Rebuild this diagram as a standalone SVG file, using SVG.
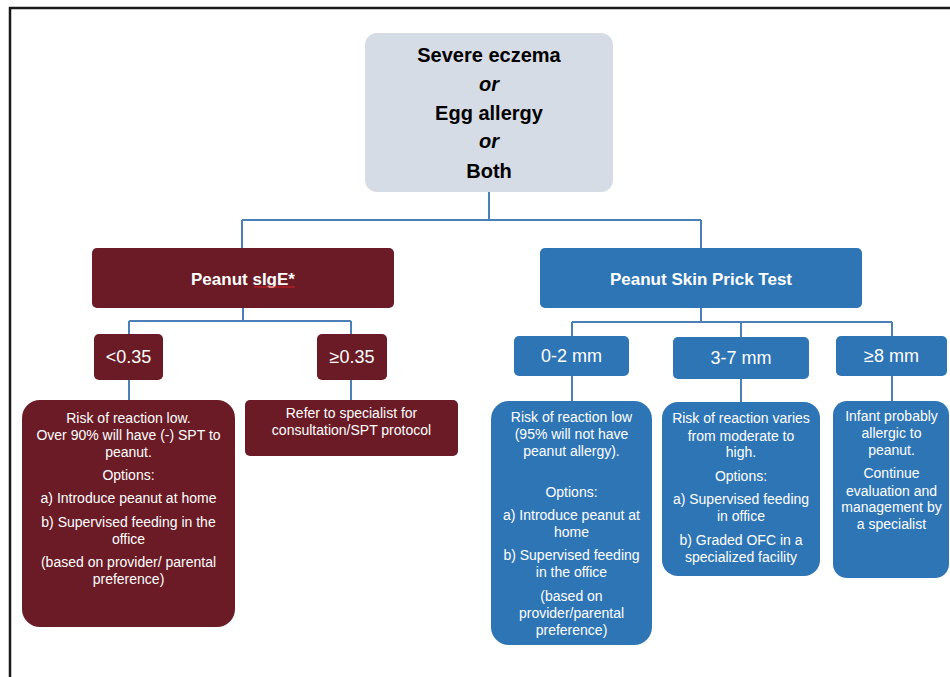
<svg xmlns="http://www.w3.org/2000/svg" width="950" height="677" viewBox="0 0 950 677">
<style>
.t{font-family:"Liberation Sans",Arial,sans-serif;text-anchor:middle}
.w{fill:#ffffff}
.s{font-size:14px}
.m{font-size:18px}
.h{font-size:17px;font-weight:bold}
.top{font-size:20px;font-weight:bold;fill:#000000}
.mar{fill:#6a1b25}
.blu{fill:#2e75b6}
.conn{stroke:#4a7fb8;stroke-width:2;fill:none}
</style>
<rect width="950" height="677" fill="#ffffff"/>
<path d="M10,677 V8 H950" fill="none" stroke="#1a1a1a" stroke-width="2.5"/>
<g id="connectors" class="conn">
<path d="M489,192 V220 M242,220 H701 M242,220 V249 M701,220 V249"/>
<path d="M243,308 V321 M129,321 H351 M129,321 V334 M351,321 V334 M129,380 V400 M351,380 V400"/>
<path d="M701,308 V322 M572,322 H892 M572,322 V336 M741,322 V337 M892,322 V336 M572,376 V401 M741,379 V402 M892,376 V401"/>
</g>
<g id="root">
<rect x="365" y="33" width="248" height="159" rx="12" fill="#d6dce5"/>
<text class="t top" x="489" y="62">Severe eczema</text>
<text class="t top" x="489" y="91" font-style="italic">or</text>
<text class="t top" x="489" y="120">Egg allergy</text>
<text class="t top" x="489" y="148" font-style="italic">or</text>
<text class="t top" x="489" y="178">Both</text>
</g>
<g id="sige">
<rect class="mar" x="92" y="248" width="302" height="60" rx="5"/>
<text class="t w h" x="243" y="285">Peanut sIgE*</text>
<path d="M254,287 H295" stroke="#d02020" stroke-width="1" fill="none"/>
</g>
<g id="spt">
<rect class="blu" x="540" y="248" width="322" height="60" rx="5"/>
<text class="t w h" x="701" y="285">Peanut Skin Prick Test</text>
</g>
<g id="lt035">
<rect class="mar" x="94" y="334" width="69" height="46" rx="5"/>
<text class="t w m" x="128.5" y="363">&lt;0.35</text>
</g>
<g id="ge035">
<rect class="mar" x="317" y="334" width="70" height="46" rx="5"/>
<text class="t w m" x="352" y="363">≥0.35</text>
</g>
<g id="sige-low">
<rect class="mar" x="22" y="400" width="213" height="227" rx="18"/>
<text class="t w s" x="128.5" y="423">Risk of reaction low.</text>
<text class="t w s" x="128.5" y="440">Over 90% will have (-) SPT to</text>
<text class="t w s" x="128.5" y="457">peanut.</text>
<text class="t w s" x="128.5" y="480">Options:</text>
<text class="t w s" x="128.5" y="503">a) Introduce peanut at home</text>
<text class="t w s" x="128.5" y="527">b) Supervised feeding in the</text>
<text class="t w s" x="128.5" y="544">office</text>
<text class="t w s" x="128.5" y="567">(based on provider/ parental</text>
<text class="t w s" x="128.5" y="584">preference)</text>
</g>
<g id="sige-high">
<rect class="mar" x="245" y="400" width="213" height="56" rx="5"/>
<text class="t w s" x="351.5" y="418">Refer to specialist for</text>
<text class="t w s" x="351.5" y="435">consultation/SPT protocol</text>
</g>
<g id="mm02">
<rect class="blu" x="514" y="336" width="115" height="40" rx="5"/>
<text class="t w m" x="571.5" y="362">0-2 mm</text>
</g>
<g id="mm37">
<rect class="blu" x="673" y="337" width="136" height="42" rx="5"/>
<text class="t w m" x="741" y="364">3-7 mm</text>
</g>
<g id="mm8">
<rect class="blu" x="836" y="336" width="111" height="40" rx="5"/>
<text class="t w m" x="891.5" y="362">≥8 mm</text>
</g>
<g id="spt-low">
<rect class="blu" x="491" y="401" width="161" height="244" rx="18"/>
<text class="t w s" x="571.5" y="422">Risk of reaction low</text>
<text class="t w s" x="571.5" y="439">(95% will not have</text>
<text class="t w s" x="571.5" y="456">peanut allergy).</text>
<text class="t w s" x="571.5" y="497">Options:</text>
<text class="t w s" x="571.5" y="520">a) Introduce peanut at</text>
<text class="t w s" x="571.5" y="537">home</text>
<text class="t w s" x="571.5" y="560">b) Supervised feeding</text>
<text class="t w s" x="571.5" y="577">in the office</text>
<text class="t w s" x="571.5" y="601">(based on</text>
<text class="t w s" x="571.5" y="618">provider/parental</text>
<text class="t w s" x="571.5" y="635">preference)</text>
</g>
<g id="spt-mid">
<rect class="blu" x="662" y="402" width="158" height="174" rx="16"/>
<text class="t w s" x="741" y="423">Risk of reaction varies</text>
<text class="t w s" x="741" y="441">from moderate to</text>
<text class="t w s" x="741" y="457">high.</text>
<text class="t w s" x="741" y="481">Options:</text>
<text class="t w s" x="741" y="504">a) Supervised feeding</text>
<text class="t w s" x="741" y="521">in office</text>
<text class="t w s" x="741" y="545">b) Graded OFC in a</text>
<text class="t w s" x="741" y="562">specialized facility</text>
</g>
<g id="spt-high">
<rect class="blu" x="833" y="401" width="116" height="177" rx="14"/>
<text class="t w s" x="891.5" y="421">Infant probably</text>
<text class="t w s" x="891.5" y="438">allergic to</text>
<text class="t w s" x="891.5" y="455">peanut.</text>
<text class="t w s" x="891.5" y="478">Continue</text>
<text class="t w s" x="891.5" y="496">evaluation and</text>
<text class="t w s" x="891.5" y="512">management by</text>
<text class="t w s" x="891.5" y="529">a specialist</text>
</g>
</svg>
